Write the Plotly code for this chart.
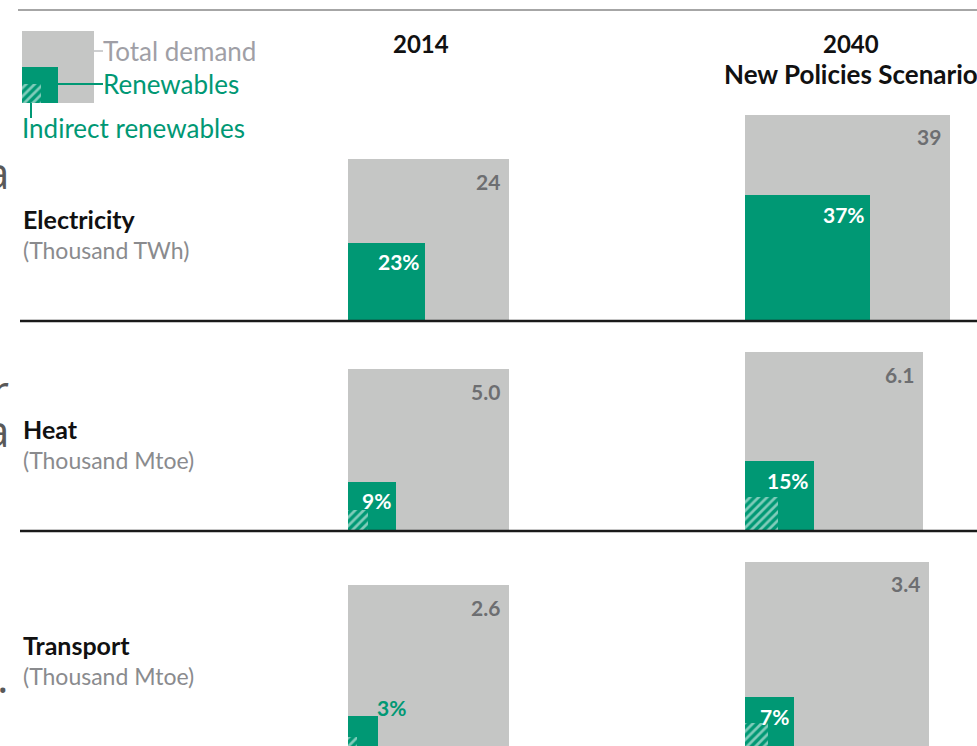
import numpy as np
from plotly import graph_objects as go

# data
sectors = ["Electricity", "Heat", "Transport"]
units = ["(Thousand TWh)", "(Thousand Mtoe)", "(Thousand Mtoe)"]
years = ["2014", "2040<br><span style='font-size:26px'>New Policies Scenario</span>"]
total_2014 = [24, 5.0, 2.6]
total_2040 = [39, 6.1, 3.4]
total_labels_2014 = ["24", "5.0", "2.6"]
total_labels_2040 = ["39", "6.1", "3.4"]
renew_share_2014 = [0.23, 0.09, 0.034]
renew_share_2040 = [0.37, 0.15, 0.07]
indirect_share_2014 = [0.0, 0.015, 0.003]
indirect_share_2040 = [0.0, 0.034, 0.015]

GREY = "#c5c6c5"
GREEN = "#009874"
DARK = "#6d6e71"
FONT = "Lato"

# layout (pixel units, y pointing down); body margin is removed below
W, H = 977, 746
baselines = [320, 530, 746]
col_left = [348, 745]
header_shift = [-8, 3]
ref_side = 161  # side of the 2014 square in every row

fig = go.Figure()


def add_square(x0, bottom, side, color, pattern=None):
    marker = dict(color=color, line=dict(width=0))
    if pattern:
        marker["pattern"] = dict(shape="/", fgcolor="white", size=6, solidity=0.45)
    fig.add_trace(go.Bar(
        x=[x0 + side / 2], y=[side], base=[-bottom], width=[side],
        marker=marker, showlegend=False, hoverinfo="skip"
    ))


def label(x, y, text, color, size, bold=False, xanchor="left", yanchor="middle", family=FONT):
    if bold:
        text = f"<b>{text}</b>"
    fig.add_annotation(x=x, y=-y, text=text, showarrow=False, xanchor=xanchor, yanchor=yanchor,
                       font=dict(family=family, size=size, color=color), xref="x", yref="y")


for r in range(3):
    k = ref_side / np.sqrt(total_2014[r])
    totals = [total_2014[r], total_2040[r]]
    tlabels = [total_labels_2014[r], total_labels_2040[r]]
    shares = [renew_share_2014[r], renew_share_2040[r]]
    indirect = [indirect_share_2014[r], indirect_share_2040[r]]
    base = baselines[r]
    for c in range(2):
        x0 = col_left[c]
        side = k * np.sqrt(totals[c])
        add_square(x0, base, side, GREY)
        label(x0 + side - 7, base - side + 22, tlabels[c], DARK, 21, bold=True, xanchor="right")
        rside = side * np.sqrt(shares[c])
        add_square(x0, base, rside, GREEN)
        if indirect[c] > 0:
            add_square(x0, base, side * np.sqrt(indirect[c]), GREEN, pattern=True)
        pct = f"{round(shares[c] * 100)}%"
        if rside > 35:
            label(x0 + rside - 3, base - rside + 19, pct, "white", 21, bold=True, xanchor="right")
        else:
            label(x0 + rside - 3, base - rside - 9, pct, GREEN, 21, bold=True)
    # row labels
    label(21, base - 101, sectors[r], "#111111", 25, bold=True)
    label(21, base - 70, units[r], "#8a8b8e", 23)

# column headers
for c in range(2):
    side0 = ref_side * np.sqrt(total_2040[0] / total_2014[0]) if c else ref_side
    fig.add_annotation(x=col_left[c] + side0 / 2 + header_shift[c], y=-27, text=f"<b>{years[c]}</b>",
                       showarrow=False, xanchor="center", yanchor="top", align="center",
                       font=dict(family=FONT, size=24, color="#111111"), xref="x", yref="y")

# row separators and top rule
fig.add_shape(type="line", x0=18, x1=W, y0=-10, y1=-10, line=dict(color="#a6a6a6", width=2))
for b in baselines[:2]:
    fig.add_shape(type="line", x0=20, x1=W, y0=-b - 1, y1=-b - 1, line=dict(color="#1a1a1a", width=2.5))

# legend key
add_square(22, 103, 72, GREY)
add_square(22, 103, 36, GREEN)
add_square(22, 103, 19, GREEN, pattern=True)
fig.add_shape(type="line", x0=94, x1=103, y0=-51, y1=-51, line=dict(color="#9d9fa2", width=1))
fig.add_shape(type="line", x0=58, x1=103, y0=-84, y1=-84, line=dict(color=GREEN, width=2))
fig.add_shape(type="line", x0=31, x1=31, y0=-103, y1=-118, line=dict(color=GREEN, width=2))
label(101, 51, "Total demand", "#a09fa6", 26)
label(101, 84, "Renewables", GREEN, 26)
label(20, 128, "Indirect renewables", GREEN, 26)

# cut-off letters from the neighbouring page text
for ch, yy in [("a", 172), ("r", 390), ("a", 430), (".", 676)]:
    fig.add_annotation(x=11, y=-yy, text=ch, showarrow=False, xanchor="right", yanchor="middle",
                       font=dict(family="Open Sans", size=44, color="#595959"), xref="x", yref="y")

fig.update_layout(
    width=W, height=H, margin=dict(l=0, r=0, t=0, b=0),
    plot_bgcolor="white", paper_bgcolor="white", barmode="overlay", bargap=0,
    xaxis=dict(range=[0, W], visible=False, fixedrange=True),
    yaxis=dict(range=[-H, 0], visible=False, fixedrange=True),
)
fig.write_html("out.html", config={"displayModeBar": False},
               post_script="document.body.style.margin='0px';")
